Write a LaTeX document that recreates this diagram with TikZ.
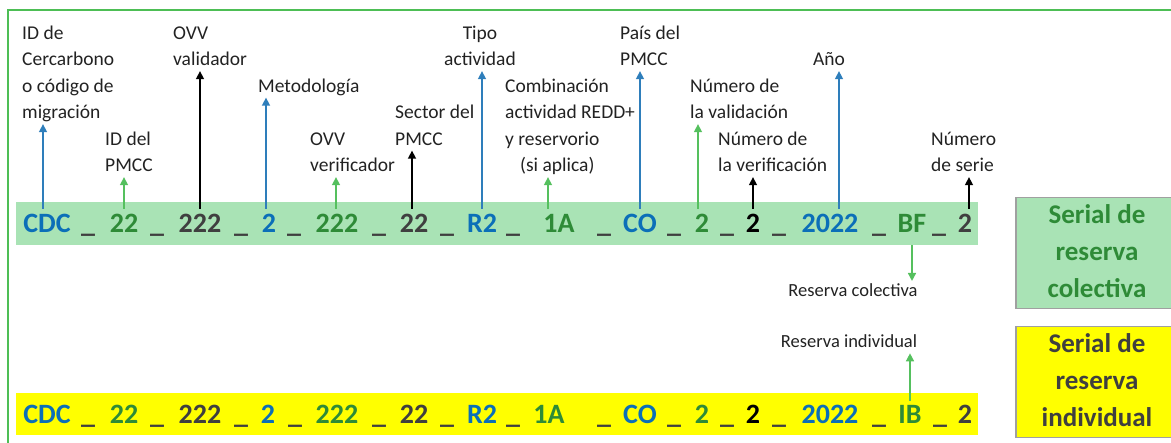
\documentclass[tikz,border=0pt]{standalone}
\usepackage{fontspec}
\setmainfont{Carlito}
\usetikzlibrary{arrows.meta,calc}
\definecolor{serblue}{HTML}{0B6FB8}
\definecolor{sergreen}{HTML}{2E8B37}
\definecolor{sergray}{HTML}{3F3F3F}
\definecolor{serblack}{HTML}{000000}
\definecolor{stripgreen}{HTML}{A9E3B5}
\definecolor{stripyellow}{HTML}{FFFF00}
\definecolor{arblue}{HTML}{2E7EBB}
\definecolor{argreen}{HTML}{55C05E}
\definecolor{framegreen}{HTML}{4DBE55}
\definecolor{boxgray}{HTML}{A0A0A0}
\definecolor{labtext}{HTML}{222222}
\newcommand{\lines}[2][l]{\begin{tabular}[t]{@{}#1@{}}#2\end{tabular}}
\begin{document}
\begin{tikzpicture}[x=1pt,y=-1pt,
  lab/.style={inner sep=0pt, anchor=base west, font=\fontsize{19.5}{26.5}\selectfont, text=labtext},
  serial/.style={inner sep=0pt, anchor=base, font=\fontsize{28}{30}\selectfont\bfseries, text height=20pt, text depth=6pt},
  strip/.style={inner sep=0pt, anchor=north west, minimum width=962pt},
  sidebox/.style={inner sep=0pt, draw=boxgray, line width=1.5pt, minimum width=162pt, align=center, font=\fontsize{27}{37}\selectfont\bfseries},
  small/.style={inner sep=0pt, anchor=base, font=\fontsize{18.5}{22}\selectfont, text=labtext},
  arr/.style={line width=1.5pt, -{Triangle[width=8pt,length=8pt]}},
  arb/.style={arr, draw=arblue},
  arg/.style={arr, draw=argreen},
  ark/.style={arr, draw=black},
]
\useasboundingbox (0,0) rectangle (1171,443);
\clip (0,0) rectangle (1171,443);
\draw[framegreen, line width=2pt] (8,10) rectangle (1200,470);

% strips
\node[strip, fill=stripgreen, minimum height=43pt] (sg) at (16,202) {};
\node[strip, fill=stripyellow, minimum height=42pt] (sy) at (16,393) {};

% side boxes
\node[sidebox, fill=stripgreen, minimum height=100pt, text=sergreen] (bg) at (1097,253) {\lines[c]{Serial de\\reserva\\colectiva}};
\node[sidebox, fill=stripyellow, minimum height=106pt, text=sergray] (by) at (1097,382) {\lines[c]{Serial de\\reserva\\individual}};

% serial tokens, top row
\foreach \x/\t/\c [count=\i] in {47/CDC/serblue, 88/\_/sergray, 124/22/sergreen, 157/\_/sergray,
  200/222/sergray, 241/\_/sergray, 269/2/serblue, 294/\_/sergray, 337/222/sergreen, 379/\_/sergray,
  414/22/sergray, 447/\_/sergray, 482/R2/serblue, 513/\_/sergray, 559/1A/sergreen, 604/\_/sergray,
  640/CO/serblue, 674/\_/sergray, 702/2/sergreen, 727/\_/sergray, 753/2/serblack, 779/\_/sergray,
  830/2022/serblue, 879/\_/sergray, 912/BF/sergreen, 939/\_/sergray, 965/2/sergray}
  \node[serial, text=\c] (g\i) at (\x,233) {\t};

% serial tokens, bottom row
\foreach \x/\t/\c [count=\i] in {47/CDC/serblue, 88/\_/sergray, 124/22/sergreen, 157/\_/sergray,
  200/222/sergray, 241/\_/sergray, 268/2/serblue, 295/\_/sergray, 337/222/sergreen, 379/\_/sergray,
  414/22/sergray, 447/\_/sergray, 482/R2/serblue, 513/\_/sergray, 549/1A/sergreen, 604/\_/sergray,
  640/CO/serblue, 674/\_/sergray, 702/2/sergreen, 727/\_/sergray, 753/2/serblack, 779/\_/sergray,
  830/2022/serblue, 879/\_/sergray, 910/IB/sergreen, 940/\_/sergray, 965/2/sergray}
  \node[serial, text=\c] (y\i) at (\x,424) {\t};

% labels
\node[lab] (l1) at (22,39.5) {\lines{ID de\\Cercarbono\\o código de\\migración}};
\node[lab] (l2) at (105,145.5) {\lines{ID del\\PMCC}};
\node[lab] (l3) at (173,39.5) {\lines{OVV\\validador}};
\node[lab] (l4) at (258,92.5) {\lines{Metodología}};
\node[lab] (l5) at (310,145.5) {\lines{OVV\\verificador}};
\node[lab] (l6) at (395,119) {\lines{Sector del\\PMCC}};
\node[lab, anchor=base] (l7) at (480,39.5) {\lines[c]{Tipo\\actividad}};
\node[lab] (l8) at (505,92.5) {\lines{Combinación\\actividad REDD+\\y reservorio\\\hspace{15pt}(si aplica)}};
\node[lab] (l9) at (620,39.5) {\lines{País del\\PMCC}};
\node[lab] (l10) at (690,92.5) {\lines{Número de\\la validación}};
\node[lab] (l11) at (718,145.5) {\lines{Número de\\la verificación}};
\node[lab] (l12) at (813,66) {\lines{Año}};
\node[lab] (l13) at (931,145.5) {\lines{Número\\de serie}};

\node[small] (rc) at (853,297) {Reserva colectiva};
\node[small] (ri) at (849,348) {Reserva individual};

% arrows from tokens up to labels
\draw[arb] ($(g1.north)+(-4,-4)$) -- ($(g1.north |- l1.south)+(-4,-3)$);
\draw[arg] ($(g3.north)+(0,-4)$) -- ($(g3.north |- l2.south)+(0,-3)$);
\draw[ark] ($(g5.north)+(0,-4)$) -- ($(g5.north |- l3.south)+(0,-3)$);
\draw[arb] ($(g7.north)+(-3,-4)$) -- ($(g7.north |- l4.south)+(-3,-3)$);
\draw[arg] ($(g9.north)+(-1,-4)$) -- ($(g9.north |- l5.south)+(-1,-3)$);
\draw[ark] ($(g11.north)+(-2,-4)$) -- ($(g11.north |- l6.south)+(-2,-3)$);
\draw[arb] ($(g13.north)+(0,-4)$) -- ($(g13.north |- l7.south)+(0,-3)$);
\draw[arg] ($(g15.north)+(-11,-4)$) -- ($(g15.north |- l8.south)+(-11,-3)$);
\draw[arb] ($(g17.north)+(0,-4)$) -- ($(g17.north |- l9.south)+(0,-3)$);
\draw[arg] ($(g19.north)+(-4,-4)$) -- ($(g19.north |- l10.south)+(-4,-3)$);
\draw[ark] ($(g21.north)+(0,-4)$) -- ($(g21.north |- l11.south)+(0,-3)$);
\draw[arb] ($(g23.north)+(9,-4)$) -- ($(g23.north |- l12.south)+(9,-3)$);
\draw[ark] ($(g27.north)+(4,-4)$) -- ($(g27.north |- l13.south)+(4,-3)$);

% reserve arrows
\draw[arg] (g25.south |- sg.south) -- ($(g25.south |- rc.north)+(0,-3)$);
\draw[arg] ($(y25.north |- sy.north)+(0,8)$) -- ($(y25.north |- ri.south)+(0,5)$);
\end{tikzpicture}
\end{document}
